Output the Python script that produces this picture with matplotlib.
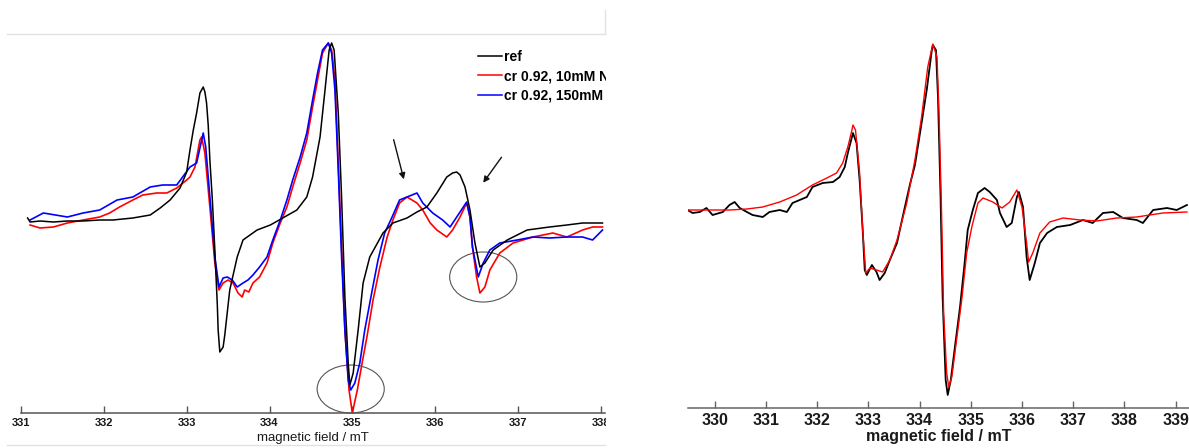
import matplotlib
matplotlib.use("Agg")
import matplotlib.pyplot as plt
from matplotlib.patches import Ellipse, Rectangle
from matplotlib.lines import Line2D

plt.rcParams['font.family'] = ['Liberation Sans', 'DejaVu Sans']

# ---- left panel: EPR spectra (field in mT, intensity in a.u.) ----
ref_field = [331.08, 331.11, 331.23, 331.39, 331.56, 331.75, 331.95, 332.11, 332.35, 332.56,
             332.68, 332.80, 332.92, 333.00, 333.04, 333.08, 333.12, 333.16, 333.20, 333.22,
             333.24, 333.26, 333.28, 333.31, 333.34, 333.37, 333.38, 333.40, 333.44, 333.46,
             333.52, 333.61, 333.68, 333.85, 334.01, 334.16, 334.33, 334.45, 334.52, 334.61,
             334.67, 334.72, 334.75, 334.78, 334.83, 334.87, 334.91, 334.95, 334.97, 335.01,
             335.07, 335.13, 335.21, 335.37, 335.49, 335.66, 335.78, 335.90, 336.02, 336.14,
             336.21, 336.26, 336.30, 336.36, 336.42, 336.48, 336.54, 336.60, 336.70, 336.87,
             337.11, 337.38, 337.59, 337.78, 338.02]
ref_int = [0.04, 0.00, 0.01, 0.00, 0.01, 0.01, 0.02, 0.02, 0.04, 0.07,
           0.14, 0.22, 0.34, 0.50, 0.72, 0.92, 1.09, 1.29, 1.35, 1.30,
           1.19, 0.97, 0.62, 0.22, -0.28, -0.83, -1.08, -1.30, -1.25, -1.13,
           -0.68, -0.35, -0.18, -0.08, -0.03, 0.04, 0.12, 0.25, 0.45, 0.85,
           1.32, 1.72, 1.79, 1.72, 1.09, 0.25, -0.75, -1.41, -1.63, -1.51,
           -1.08, -0.61, -0.35, -0.11, -0.01, 0.04, 0.10, 0.15, 0.29, 0.45,
           0.49, 0.50, 0.47, 0.35, 0.12, -0.21, -0.45, -0.41, -0.28, -0.18,
           -0.08, -0.05, -0.03, -0.01, -0.01]

nacl10_field = [331.11, 331.23, 331.39, 331.56, 331.75, 331.95, 332.07, 332.19, 332.35, 332.47,
                332.64, 332.76, 332.88, 333.00, 333.04, 333.10, 333.16, 333.18, 333.22, 333.28,
                333.34, 333.39, 333.44, 333.50, 333.56, 333.62, 333.67, 333.70, 333.75, 333.80,
                333.88, 333.97, 334.04, 334.13, 334.21, 334.28, 334.37, 334.45, 334.52, 334.58,
                334.64, 334.71, 334.75, 334.79, 334.83, 334.87, 334.91, 334.96, 335.00, 335.06,
                335.12, 335.18, 335.25, 335.33, 335.42, 335.49, 335.57, 335.66, 335.78, 335.85,
                335.94, 336.02, 336.14, 336.21, 336.30, 336.38, 336.42, 336.45, 336.50, 336.54,
                336.60, 336.66, 336.78, 336.94, 337.18, 337.42, 337.59, 337.78, 337.90, 338.02]
nacl10_int = [-0.03, -0.06, -0.05, -0.01, 0.02, 0.05, 0.09, 0.15, 0.22, 0.27,
              0.29, 0.29, 0.34, 0.42, 0.45, 0.55, 0.82, 0.85, 0.69, 0.15,
              -0.41, -0.68, -0.61, -0.58, -0.61, -0.71, -0.75, -0.68, -0.70, -0.61,
              -0.55, -0.41, -0.21, -0.01, 0.15, 0.35, 0.59, 0.82, 1.15, 1.42,
              1.69, 1.79, 1.72, 1.42, 0.59, -0.25, -1.08, -1.68, -1.91, -1.68,
              -1.40, -1.13, -0.78, -0.46, -0.15, 0.02, 0.19, 0.25, 0.19, 0.12,
              -0.01, -0.08, -0.15, -0.08, 0.05, 0.19, 0.05, -0.25, -0.55, -0.71,
              -0.65, -0.48, -0.31, -0.21, -0.15, -0.11, -0.15, -0.08, -0.05, -0.05]

nacl150_field = [331.11, 331.27, 331.56, 331.75, 331.95, 332.16, 332.35, 332.56, 332.71, 332.88,
                 333.04, 333.12, 333.20, 333.23, 333.28, 333.34, 333.39, 333.44, 333.49, 333.55,
                 333.61, 333.68, 333.74, 333.80, 333.88, 333.97, 334.04, 334.13, 334.21, 334.28,
                 334.37, 334.45, 334.52, 334.58, 334.64, 334.71, 334.75, 334.79, 334.83, 334.87,
                 334.91, 334.95, 334.98, 335.03, 335.09, 335.15, 335.24, 335.31, 335.39, 335.48,
                 335.57, 335.66, 335.78, 335.85, 335.97, 336.09, 336.18, 336.26, 336.38, 336.42,
                 336.45, 336.52, 336.58, 336.66, 336.78, 336.99, 337.18, 337.38, 337.59, 337.78,
                 337.90, 338.02]
nacl150_int = [0.02, 0.09, 0.05, 0.09, 0.12, 0.22, 0.25, 0.35, 0.37, 0.37,
               0.55, 0.59, 0.89, 0.75, 0.25, -0.35, -0.65, -0.56, -0.55, -0.58,
               -0.65, -0.61, -0.58, -0.53, -0.45, -0.35, -0.18, 0.02, 0.22, 0.42,
               0.65, 0.89, 1.22, 1.49, 1.72, 1.79, 1.69, 1.32, 0.52, -0.35,
               -1.08, -1.58, -1.68, -1.61, -1.41, -1.08, -0.68, -0.38, -0.11, 0.05,
               0.22, 0.25, 0.29, 0.19, 0.09, 0.02, -0.05, 0.05, 0.20, 0.05,
               -0.25, -0.55, -0.41, -0.28, -0.21, -0.18, -0.15, -0.16, -0.15, -0.15,
               -0.18, -0.08]

left_ticks = [331, 332, 333, 334, 335, 336, 337, 338]

# ---- right panel: experiment vs. simulation ----
exp_field = [329.47, 329.57, 329.71, 329.84, 329.96, 330.16, 330.29, 330.39, 330.49, 330.63,
             330.74, 330.94, 331.07, 331.27, 331.41, 331.52, 331.66, 331.80, 331.91, 332.11,
             332.31, 332.44, 332.54, 332.60, 332.68, 332.70, 332.77, 332.83, 332.89, 332.93,
             332.97, 333.07, 333.16, 333.22, 333.32, 333.42, 333.56, 333.67, 333.81, 333.91,
             334.04, 334.14, 334.24, 334.26, 334.32, 334.36, 334.41, 334.45, 334.51, 334.55,
             334.61, 334.69, 334.79, 334.88, 334.94, 335.04, 335.14, 335.27, 335.37, 335.51,
             335.57, 335.70, 335.80, 335.90, 335.94, 336.02, 336.09, 336.15, 336.25, 336.35,
             336.49, 336.68, 336.94, 337.19, 337.38, 337.58, 337.78, 337.97, 338.24, 338.36,
             338.56, 338.83, 339.02, 339.22]
exp_int = [-0.01, -0.04, -0.03, 0.01, -0.06, -0.03, 0.04, 0.07, 0.01, -0.03,
           -0.06, -0.08, -0.03, -0.01, -0.03, 0.06, 0.09, 0.12, 0.22, 0.26,
           0.27, 0.32, 0.42, 0.56, 0.72, 0.76, 0.66, 0.29, -0.21, -0.61,
           -0.66, -0.56, -0.63, -0.71, -0.64, -0.51, -0.34, -0.08, 0.24, 0.44,
           0.86, 1.19, 1.59, 1.64, 1.59, 1.12, 0.12, -0.88, -1.71, -1.86,
           -1.71, -1.38, -0.98, -0.54, -0.21, -0.01, 0.16, 0.21, 0.17, 0.09,
           -0.04, -0.18, -0.14, 0.12, 0.17, 0.02, -0.48, -0.71, -0.54, -0.34,
           -0.24, -0.18, -0.16, -0.11, -0.14, -0.04, -0.03, -0.09, -0.11, -0.14,
           -0.01, 0.01, -0.01, 0.04]

sim_field = [329.47, 329.96, 330.29, 330.63, 330.94, 331.27, 331.60, 331.91, 332.19, 332.38,
             332.50, 332.60, 332.68, 332.70, 332.75, 332.83, 332.89, 332.95, 333.03, 333.16,
             333.28, 333.42, 333.56, 333.75, 333.91, 334.04, 334.16, 334.26, 334.34, 334.38,
             334.43, 334.47, 334.53, 334.57, 334.63, 334.73, 334.83, 334.92, 335.02, 335.14,
             335.24, 335.43, 335.61, 335.76, 335.90, 336.00, 336.09, 336.13, 336.21, 336.35,
             336.54, 336.80, 337.13, 337.46, 337.85, 338.24, 338.75, 339.22]
sim_int = [-0.01, -0.01, -0.01, 0.00, 0.02, 0.07, 0.14, 0.24, 0.31, 0.36,
           0.46, 0.62, 0.79, 0.84, 0.79, 0.36, -0.21, -0.64, -0.59, -0.61,
           -0.63, -0.51, -0.31, 0.06, 0.49, 0.92, 1.42, 1.65, 1.52, 0.96,
           -0.04, -1.04, -1.64, -1.78, -1.68, -1.28, -0.88, -0.44, -0.18, 0.06,
           0.11, 0.07, 0.01, 0.07, 0.19, 0.02, -0.34, -0.53, -0.44, -0.24,
           -0.13, -0.09, -0.11, -0.12, -0.09, -0.08, -0.04, -0.03]

right_ticks = [330, 331, 332, 333, 334, 335, 336, 337, 338, 339]

W, H = 1189, 448
fig = plt.figure(figsize=(W / 100, H / 100), dpi=100)


def px_axes(x0, y0, x1, y1):
    return fig.add_axes([x0 / W, 1 - y1 / H, (x1 - x0) / W, (y1 - y0) / H])


def style_axis(ax, color, size, pad):
    for s in ['top', 'left', 'right']:
        ax.spines[s].set_visible(False)
    ax.spines['bottom'].set_color(color)
    ax.spines['bottom'].set_linewidth(1.1)
    ax.set_yticks([])
    ax.tick_params(axis='x', direction='in', length=5, width=1, color=color,
                   pad=pad, labelsize=size)
    for lab in ax.get_xticklabels():
        lab.set_fontweight('bold')
        lab.set_color('#1a1a1a')


# left panel
ax1 = px_axes(21, 34, 605, 413)
ax1.plot(nacl10_field, nacl10_int, color='#ff0000', lw=1.2)
ax1.plot(nacl150_field, nacl150_int, color='#0000ff', lw=1.2)
ax1.plot(ref_field, ref_int, color='black', lw=1.1)
ax1.set_xlim(331, 338.05)
ax1.set_ylim(-1.91, 1.88)
ax1.set_xticks(left_ticks)
style_axis(ax1, '#555555', 8, 3.5)
ax1.set_xlabel('magnetic field / mT', fontsize=9.5, labelpad=3, color='#1a1a1a')

ax1.add_patch(Ellipse((334.98, -1.67), 0.81, 0.48, fill=False, ec='#555555', lw=0.8, clip_on=False))
ax1.add_patch(Ellipse((336.58, -0.55), 0.81, 0.50, fill=False, ec='#555555', lw=0.8, clip_on=False))
ax1.annotate('', xy=(335.63, 0.40), xytext=(335.49, 0.85),
             arrowprops=dict(arrowstyle='-|>', color='#111111', lw=1.0, mutation_scale=9))
ax1.annotate('', xy=(336.56, 0.37), xytext=(336.82, 0.67),
             arrowprops=dict(arrowstyle='-|>', color='#111111', lw=1.0, mutation_scale=9))

handles = [Line2D([], [], color='black', lw=1.1),
           Line2D([], [], color='#ff0000', lw=1.1),
           Line2D([], [], color='#0000ff', lw=1.1)]
leg = ax1.legend(handles, ['ref', 'cr 0.92, 10mM NaCl', 'cr 0.92, 150mM NaCl'],
                 loc='upper left', bbox_to_anchor=(478 / W, 1 - 50 / H),
                 bbox_transform=fig.transFigure, frameon=False, borderpad=0,
                 borderaxespad=0, handlelength=1.7, handletextpad=0.15,
                 labelspacing=0.38, prop={'size': 10, 'weight': 'bold'})

# right panel
ax2 = px_axes(688, 30, 1189, 407.7)
ax2.plot(exp_field, exp_int, color='black', lw=1.3)
ax2.plot(sim_field, sim_int, color='#ff0000', lw=1.0)
ax2.set_xlim(329.48, 339.26)
ax2.set_ylim(-1.987, 1.79)
ax2.set_xticks(right_ticks)
style_axis(ax2, '#666666', 11.5, 3.5)
ax2.set_xlabel('magnetic field / mT', fontsize=11.5, fontweight='bold', labelpad=1, color='#1a1a1a')

# left panel was cut off on the right side of the source image
fig.add_artist(Rectangle((606 / W, 0), 70 / W, 1, transform=fig.transFigure,
                         facecolor='white', edgecolor='none', zorder=5))
frame = dict(transform=fig.transFigure, color='#e2e2e2', lw=1, zorder=6)
fig.add_artist(Line2D([7 / W, 605 / W], [1 - 34 / H, 1 - 34 / H], **frame))
fig.add_artist(Line2D([7 / W, 605 / W], [1 - 445 / H, 1 - 445 / H], **frame))
fig.add_artist(Line2D([605 / W, 605 / W], [1 - 10 / H, 1 - 34 / H], **frame))

fig.savefig('out.png', dpi=100)
